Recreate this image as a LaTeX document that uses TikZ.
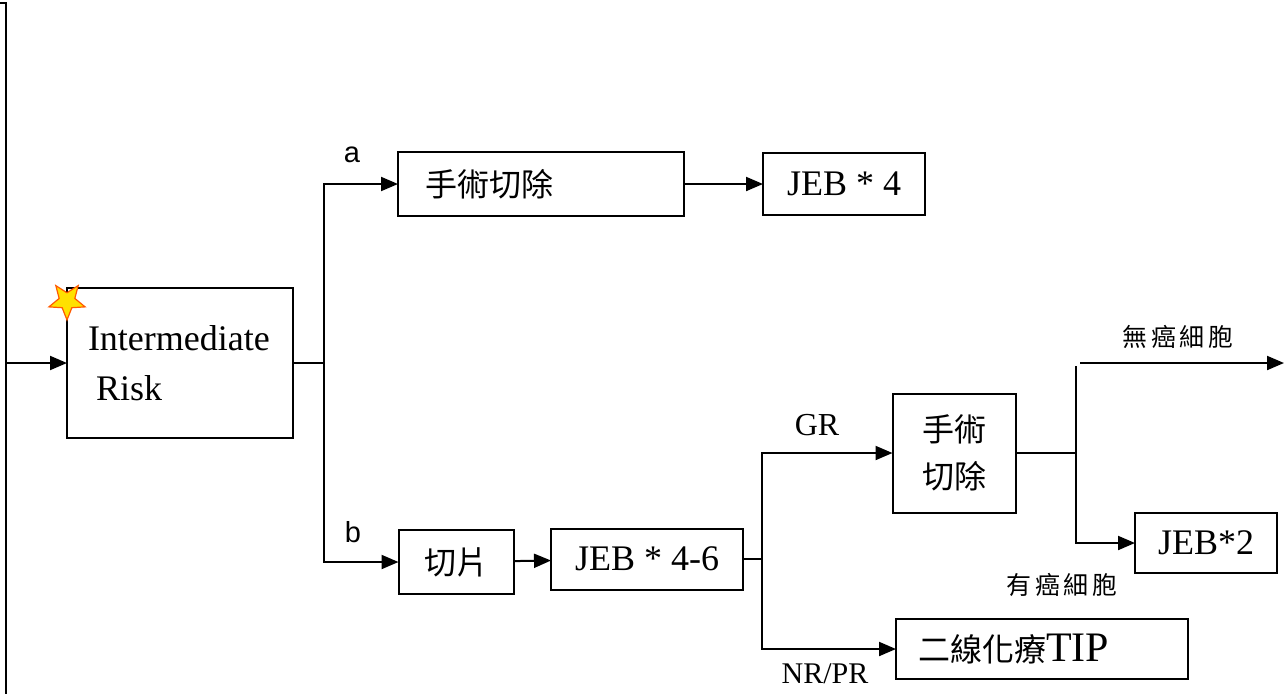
\documentclass[tikz,border=0pt]{standalone}
\usepackage{fontspec}
\setmainfont{Liberation Serif}
\newfontfamily\cjk{Noto Sans CJK TC}
\newfontfamily\cjksp[LetterSpace=15]{Noto Sans CJK TC}
\newfontfamily\arialfam{Liberation Sans}
\usepackage{tikz}
\usetikzlibrary{arrows.meta}
\usetikzlibrary{shapes.geometric}
\definecolor{starfill}{RGB}{255,225,0}
\definecolor{starline}{RGB}{255,90,0}

\begin{document}
\begin{tikzpicture}[x=1pt,y=-1pt,line width=2pt,
    >={Triangle[length=17pt,width=14pt]},
    box/.style={draw,inner sep=0pt,outer sep=0pt,font=\fontsize{36}{43}\selectfont},
    cbox/.style={box,font=\cjk\fontsize{32}{47}\selectfont},
    lbl/.style={inner sep=0pt,font=\fontsize{32}{38}\selectfont},
    clbl/.style={inner sep=0pt,font=\cjksp\fontsize{25}{30}\selectfont},
    letter/.style={inner sep=0pt,font=\arialfam\fontsize{29}{34}\selectfont}]
      \useasboundingbox (0,0) rectangle (1284,694);

      \node[box,minimum height=150pt,text width=184pt,inner xsep=21pt,align=left,font=\fontsize{36}{50}\selectfont] (risk) at (180,363) {Intermediate\\\hspace*{8pt}Risk};
      \node[star,star points=5,star point ratio=2.3,minimum size=38pt,inner sep=0pt,fill=starfill,draw=starline,line width=1.2pt,rotate=180] (spark) at (67,301) {};

      \node[cbox,minimum height=64pt,text width=232pt,inner xsep=27pt,align=left] (cut1) at (541,184) {手術切除};
      \node[box,minimum width=162pt,minimum height=62pt] (jebA) at (844,184) {JEB * 4};

      \node[cbox,minimum width=115pt,minimum height=64pt] (biopsy) at (456,562) {切片};
      \node[box,minimum width=192pt,minimum height=61pt] (jebB) at (647,559) {JEB * 4-6};

      \node[cbox,minimum width=123pt,minimum height=119pt,align=center] (cut2) at (954,453) {手術\\切除};
      \node[box,minimum width=142pt,minimum height=60pt] (jebC) at (1206,543) {JEB*2};
      \node[cbox,minimum height=60pt,text width=248pt,inner xsep=22pt,align=left] (tip) at (1042,649) {二線化療{\rmfamily\fontsize{42}{47}\selectfont TIP}};

      \coordinate (edge) at (6,363);
      \coordinate (s1) at (324,363);
      \coordinate (s2) at (762,559);
      \coordinate (s3) at (1076,453);
      \coordinate (top) at (1076,366);
      \coordinate (free0) at (1080,363);
      \coordinate (free1) at (1284,363);

      \draw (0,3) -- (6,3) -- (6,694);
      \draw[->] (edge) -- (risk);
      \draw (risk) -- (s1);

      \draw[->] (s1) |- (cut1);
      \draw[->] (s1) |- (biopsy);
      \draw[->] (cut1) -- (jebA);
      \draw[->] (biopsy) -- (jebB);

      \draw (jebB) -- (s2);
      \draw[->] (s2) |- (cut2);
      \draw[->] (s2) |- (tip);

      \draw (cut2) -- (s3);
      \draw (s3) -- (top);
      \draw[->] (s3) |- (jebC);
      \draw[->] (free0) -- (free1);

      \node[letter] (la) at (352,155) {a};
      \node[letter] (lb) at (353,532) {b};
      \node[lbl] (gr) at (817,425) {GR};
      \node[lbl,font=\fontsize{30}{36}\selectfont] (nrpr) at (825,674) {NR/PR};
      \node[clbl] (nocell) at (1178,337) {無癌細胞};
      \node[clbl] (cell) at (1062,585) {有癌細胞};
    \end{tikzpicture}
\end{document}
